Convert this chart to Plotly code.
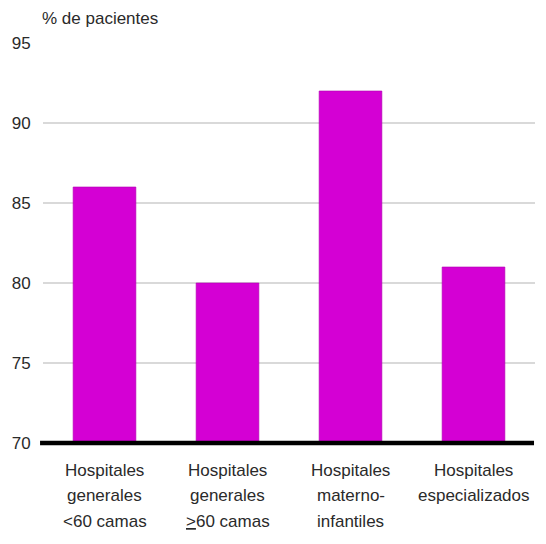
import plotly.graph_objects as go

# Categorías de hospital y porcentaje de pacientes
categorias = [
    "Hospitales<br>generales<br><60 camas",
    "Hospitales<br>generales<br><u>></u>60 camas",
    "Hospitales<br>materno-<br>infantiles",
    "Hospitales<br>especializados",
]
porcentajes = [86, 80, 92, 81]
ticks_y = [70, 75, 80, 85, 90, 95]
base = 70

texto = dict(family="Liberation Sans, Arial, sans-serif", size=17, color="#2a2a2a")

fig = go.Figure(
    go.Bar(
        x=categorias,
        y=[v - base for v in porcentajes],
        base=base,
        width=0.51,
        marker=dict(color="#D400D4", line=dict(color="#B000B0", width=0.6)),
    )
)

# Etiquetas de categoría, una línea por anotación para separar más los renglones
anotaciones = []
for cat in categorias:
    for i, linea in enumerate(cat.split("<br>")):
        anotaciones.append(
            dict(
                text=linea,
                x=cat, xref="x",
                y=0, yref="paper",
                yshift=-27 - 25.5 * i,
                xanchor="center", yanchor="middle",
                showarrow=False,
                font=texto,
            )
        )
anotaciones.append(
    dict(
        text="% de pacientes",
        xref="paper", yref="paper",
        x=-0.006, y=1.0, yshift=25,
        xanchor="left", yanchor="middle",
        showarrow=False,
        font=texto,
    )
)

fig.update_layout(
    width=546,
    height=544,
    margin=dict(l=43, r=11, t=43, b=101),
    paper_bgcolor="white",
    plot_bgcolor="white",
    font=texto,
    showlegend=False,
    annotations=anotaciones,
    shapes=[
        # línea base gruesa en el mínimo del eje (70), sin recortar
        dict(
            type="line", xref="paper", yref="paper",
            x0=-0.006, x1=0.998, y0=0, y1=0,
            line=dict(color="black", width=4.5),
            layer="above",
        )
    ],
)
fig.update_xaxes(
    showgrid=False,
    showline=False,
    showticklabels=False,
    ticks="",
)
fig.update_yaxes(
    range=[base, 95],
    tickvals=ticks_y,
    showgrid=True,
    gridcolor="#D9D9D9",
    gridwidth=1.5,
    zeroline=False,
    showline=False,
    ticks="outside",
    ticklen=8,
    tickcolor="rgba(0,0,0,0)",
    tickfont=texto,
)

fig.write_html("out.html")
